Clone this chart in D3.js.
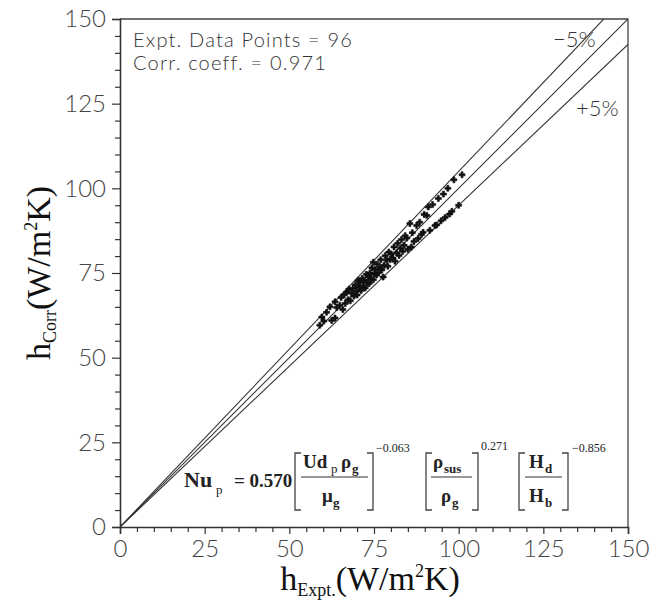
<!DOCTYPE html>
<html>
<head>
<meta charset="utf-8">
<script src="https://cdn.jsdelivr.net/npm/d3@7"></script>
<style>
  html, body { margin: 0; padding: 0; background: #fff; }
  svg { display: block; }
</style>
</head>
<body>
<svg id="chart" width="663" height="604"></svg>
<script>
// Experimental vs. correlated heat transfer coefficient (W/m²K)
const hExpt = [
  59.0, 59.6, 60.2, 61.0, 62.0, 62.5, 63.5, 63.5, 64.0, 64.9,
  65.3, 65.8, 66.2, 66.5, 67.0, 67.3, 67.6, 68.0, 68.4, 68.8,
  69.1, 69.5, 69.8, 70.0, 70.3, 70.6, 70.9, 71.2, 71.5, 71.8,
  72.1, 72.4, 72.7, 73.0, 73.3, 73.6, 73.8, 74.1, 74.4, 74.8,
  74.8, 75.1, 75.4, 75.8, 76.0, 76.3, 76.8, 77.0, 77.3, 77.7,
  78.0, 78.3, 78.8, 79.1, 79.4, 79.8, 80.1, 80.6, 80.9, 81.2,
  81.7, 82.0, 82.4, 82.8, 83.1, 83.5, 83.9, 84.2, 84.7, 85.0,
  85.6, 86.0, 86.3, 86.8, 87.6, 88.0, 88.5, 89.0, 89.5, 89.8,
  90.6, 91.0, 91.5, 92.3, 93.0, 93.5, 94.0, 94.8, 95.5, 96.0,
  96.8, 97.3, 98.0, 98.6, 100.0, 101.0
];
const hCorr = [
  59.6, 62.0, 60.8, 63.4, 65.0, 61.0, 66.5, 61.7, 64.8, 65.5,
  67.8, 64.2, 68.6, 66.0, 69.4, 67.1, 70.2, 66.8, 69.0, 70.5,
  68.2, 71.5, 69.6, 68.5, 72.8, 70.9, 72.3, 69.8, 73.4, 71.0,
  72.9, 70.6, 74.6, 72.0, 73.9, 71.9, 75.0, 73.2, 76.5, 73.0,
  78.2, 74.6, 76.0, 74.4, 77.6, 75.1, 76.5, 78.9, 75.9, 73.8,
  77.2, 80.1, 78.8, 77.0, 81.2, 79.0, 80.6, 79.4, 82.7, 78.5,
  81.0, 83.8, 80.2, 82.3, 84.9, 81.4, 83.2, 86.0, 85.3, 82.0,
  89.6, 82.7, 86.9, 84.3, 89.0, 85.2, 90.0, 86.4, 87.0, 92.3,
  92.0, 94.5, 87.6, 95.2, 89.0, 89.2, 97.0, 90.4, 98.3, 91.4,
  100.0, 92.4, 93.2, 102.5, 95.0, 104.0
];
const axisMajor = [0, 25, 50, 75, 100, 125, 150];
const axisMinor = [5, 10, 15, 20, 30, 35, 40, 45, 55, 60, 65, 70, 80, 85, 90, 95,
                   105, 110, 115, 120, 130, 135, 140, 145];
const bandFactors = [1.05, 1.0, 0.95];   // -5 %, parity, +5 % lines
const infoLines = ["Expt. Data Points = 96", "Corr. coeff. = 0.971"];

const svg = d3.select("#chart");
const x = d3.scaleLinear().domain([0, 150]).range([120, 628]);
const y = d3.scaleLinear().domain([0, 150]).range([527, 19]);

const tickFont = "Lato, 'Liberation Sans', sans-serif";

// clip for reference lines
svg.append("defs").append("clipPath").attr("id", "plotClip")
  .append("rect").attr("x", x(0)).attr("y", y(150))
  .attr("width", x(150) - x(0)).attr("height", y(0) - y(150));

// frame (top and right edges)
svg.append("path")
  .attr("d", `M${x(0)},${y(150)}H${x(150)}V${y(0)}`)
  .attr("fill", "none").attr("stroke", "#444").attr("stroke-width", 1.3);

// axes
function styleAxis(g) {
  g.select(".domain").attr("stroke", "#333").attr("stroke-width", 1.6);
  g.selectAll(".tick line").attr("stroke", "#333").attr("stroke-width", 1.2);
  g.selectAll(".tick text").attr("fill", "#444")
    .style("font-family", tickFont).style("font-weight", 300).style("font-size", "24px");
}
svg.append("g").attr("transform", `translate(0,${y(0)})`)
  .call(d3.axisBottom(x).tickValues(axisMajor).tickSize(7).tickPadding(6).tickFormat(d3.format("d")))
  .call(styleAxis);
svg.append("g").attr("transform", `translate(0,${y(0)})`)
  .call(d3.axisBottom(x).tickValues(axisMinor).tickSize(5).tickFormat(""))
  .call(styleAxis).select(".domain").remove();
svg.append("g").attr("transform", `translate(${x(0)},0)`)
  .call(d3.axisLeft(y).tickValues(axisMajor).tickSize(8).tickPadding(6).tickFormat(d3.format("d")))
  .call(styleAxis);
svg.append("g").attr("transform", `translate(${x(0)},0)`)
  .call(d3.axisLeft(y).tickValues(axisMinor).tickSize(5).tickFormat(""))
  .call(styleAxis).select(".domain").remove();

// parity and ±5 % lines
svg.append("g").attr("clip-path", "url(#plotClip)")
  .selectAll("line").data(bandFactors).join("line")
  .attr("x1", x(0)).attr("y1", y(0))
  .attr("x2", x(150)).attr("y2", f => y(150 * f))
  .attr("stroke", "#333").attr("stroke-width", 1.1);

// data points
const pts = d3.range(hExpt.length).map(i => ({ e: hExpt[i], c: hCorr[i] }));
svg.append("g").selectAll("path").data(pts).join("path")
  .attr("transform", d => `translate(${x(d.e)},${y(d.c)})`)
  .attr("d", d3.symbol().type(d3.symbolCross).size(20))
  .attr("fill", "#111").attr("stroke", "#111").attr("stroke-width", 0.6);

// info text
svg.append("g").selectAll("text").data(infoLines).join("text")
  .attr("x", 133).attr("y", (d, i) => 47 + i * 23)
  .style("font-family", tickFont).style("font-weight", 300).style("font-size", "20px")
  .style("letter-spacing", "1.2px")
  .attr("fill", "#333").text(d => d);

svg.append("text").attr("x", 553).attr("y", 47)
  .style("font-family", tickFont).style("font-weight", 300).style("font-size", "22px")
  .attr("fill", "#333").text("\u22125%");
svg.append("text").attr("x", 576).attr("y", 116)
  .style("font-family", tickFont).style("font-weight", 300).style("font-size", "22px")
  .attr("fill", "#333").text("+5%");

// axis titles
const serif = "'Liberation Serif', 'Times New Roman', serif";
const xt = svg.append("text").attr("x", 370).attr("y", 590).attr("text-anchor", "middle")
  .style("font-family", serif).style("font-size", "34px").attr("fill", "#111");
xt.append("tspan").text("h");
xt.append("tspan").attr("dy", 6).style("font-size", "18px").text("Expt.");
xt.append("tspan").attr("dy", -6).text("(W/m");
xt.append("tspan").attr("dy", -13).style("font-size", "18px").text("2");
xt.append("tspan").attr("dy", 13).text("K)");

const yt = svg.append("text").attr("transform", "translate(50,273) rotate(-90)")
  .attr("text-anchor", "middle")
  .style("font-family", serif).style("font-size", "34px").attr("fill", "#111");
yt.append("tspan").text("h");
yt.append("tspan").attr("dy", 6).style("font-size", "18px").text("Corr");
yt.append("tspan").attr("dy", -6).text("(W/m");
yt.append("tspan").attr("dy", -13).style("font-size", "18px").text("2");
yt.append("tspan").attr("dy", 13).text("K)");

// correlation equation
const eq = svg.append("g").style("font-family", serif).style("font-weight", "bold").attr("fill", "#222");
function txt(xp, yp, s, size, weight) {
  return eq.append("text").attr("x", xp).attr("y", yp)
    .style("font-size", size + "px").style("font-weight", weight || "bold").text(s);
}
function bracket(x0, x1) {
  const top = 453, bot = 510, s = 6;
  eq.append("path")
    .attr("d", `M${x0 + s},${top}H${x0}V${bot}H${x0 + s}M${x1 - s},${top}H${x1}V${bot}H${x1 - s}`)
    .attr("fill", "none").attr("stroke", "#444").attr("stroke-width", 1.3);
}
function rule(x0, x1) {
  eq.append("line").attr("x1", x0).attr("x2", x1).attr("y1", 477).attr("y2", 477)
    .attr("stroke", "#333").attr("stroke-width", 1.2);
}
txt(184, 487, "Nu", 22);
txt(216, 494, "p", 13, "normal");
txt(234, 487, "= 0.570", 19);
bracket(295, 373);
txt(303, 468, "Ud", 19); txt(331, 473, "p", 13, "normal");
txt(341, 468, "\u03C1", 19); txt(352, 473, "g", 13);
rule(301, 368);
txt(322, 502, "\u03BC", 19); txt(333, 507, "g", 13);
txt(376, 452, "\u22120.063", 12, "normal");
bracket(426, 478);
txt(433, 468, "\u03C1", 19); txt(444, 473, "sus", 13);
rule(431, 472);
txt(441, 502, "\u03C1", 19); txt(452, 507, "g", 13);
txt(481, 450, "0.271", 12, "normal");
bracket(519, 568);
txt(529, 468, "H", 19); txt(545, 473, "d", 13);
rule(525, 562);
txt(529, 502, "H", 19); txt(545, 507, "b", 13);
txt(572, 452, "\u22120.856", 12, "normal");
</script>
</body>
</html>
